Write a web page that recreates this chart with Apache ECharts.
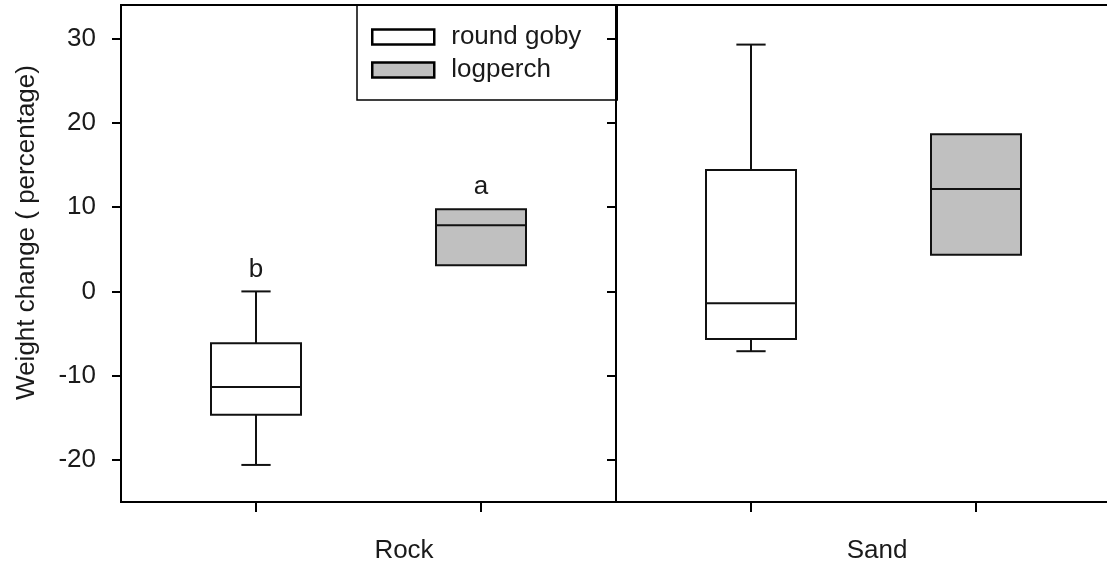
<!DOCTYPE html>
<html>
<head>
<meta charset="utf-8">
<script src="https://cdn.jsdelivr.net/npm/echarts@6/dist/echarts.min.js"></script>
<style>
  html, body { margin: 0; padding: 0; background: #fff; }
  #chart { width: 1107px; height: 564px; }
</style>
</head>
<body>
<div id="chart"></div>
<script>
// Habitat panels and the position of each species inside a panel
const habitats = ['Rock', 'Sand'];
const groupPos = [1, 2];            // round goby, logperch
const yTicks = [-20, -10, 0, 10, 20, 30];

// Box statistics: [lower whisker, Q1, median, Q3, upper whisker]
const gobyRock  = [-20.6, -14.65, -11.35, -6.15, 0.0];
const gobySand  = [-7.1, -5.65, -1.4, 14.4, 29.3];
const perchRock = [null, 3.1, 7.85, 9.75, null];
const perchSand = [null, 4.35, 12.15, 18.65, null];

// Significance letters over the Rock boxes
const rockLetters = ['b', 'a'];

const FONT = '"Liberation Sans", Arial, sans-serif';
const TEXT = '#1a1a1a';
const INK = '#111';
const BOX_W = 0.4;   // box width in x-axis units
const CAP_W = 0.13;  // whisker cap width in x-axis units

function renderBox(params, api) {
  const x = api.value(0);
  const v = [1, 2, 3, 4, 5].map(i => api.value(i));
  const half = api.size([BOX_W, 0])[0] / 2;
  const capHalf = api.size([CAP_W, 0])[0] / 2;
  const cx = api.coord([x, v[2]])[0];
  const yOf = val => api.coord([x, val])[1];
  const line = { stroke: INK, lineWidth: 2 };
  const children = [];
  const yq1 = yOf(v[1]), yq3 = yOf(v[3]), ymed = yOf(v[2]);
  if (isFinite(v[0])) {
    const y0 = yOf(v[0]);
    children.push({ type: 'line', shape: { x1: cx, y1: yq1, x2: cx, y2: y0 }, style: line });
    children.push({ type: 'line', shape: { x1: cx - capHalf, y1: y0, x2: cx + capHalf, y2: y0 }, style: line });
  }
  if (isFinite(v[4])) {
    const y4 = yOf(v[4]);
    children.push({ type: 'line', shape: { x1: cx, y1: yq3, x2: cx, y2: y4 }, style: line });
    children.push({ type: 'line', shape: { x1: cx - capHalf, y1: y4, x2: cx + capHalf, y2: y4 }, style: line });
  }
  children.push({
    type: 'rect',
    shape: { x: cx - half, y: yq3, width: half * 2, height: yq1 - yq3 },
    style: { fill: api.visual('color'), stroke: INK, lineWidth: 2 }
  });
  children.push({ type: 'line', shape: { x1: cx - half, y1: ymed, x2: cx + half, y2: ymed }, style: line });
  return { type: 'group', children };
}

function renderLetter(params, api) {
  const p = api.coord([api.value(0), api.value(1)]);
  return {
    type: 'text',
    x: p[0], y: p[1] - 9,
    style: {
      text: rockLetters[params.dataIndex],
      fill: TEXT, font: '26px ' + FONT,
      align: 'center', verticalAlign: 'bottom'
    }
  };
}

function boxSeries(name, color, grid, stats) {
  return {
    type: 'custom', name, xAxisIndex: grid, yAxisIndex: grid,
    itemStyle: { color },
    encode: { x: 0, y: [1, 2, 3, 4, 5] },
    renderItem: renderBox,
    data: [[groupPos[name === 'round goby' ? 0 : 1], ...stats]],
    z: 3
  };
}

function topOf(stats) {
  return stats[4] !== null ? stats[4] : stats[3];
}

const grids = habitats.map((h, i) => ({
  left: i === 0 ? 121 : 616, top: 5, width: 495, height: 497,
  outerBoundsMode: 'none', containLabel: false,
  show: true, borderColor: '#000', borderWidth: 2, backgroundColor: 'transparent'
}));

const xAxes = habitats.map((h, i) => ({
  type: 'value', gridIndex: i, min: 0.4, max: 2.6,
  axisLine: { show: true, onZero: false, lineStyle: { color: '#000', width: 2 } },
  axisTick: { show: true, customValues: groupPos, length: 10, lineStyle: { color: '#000', width: 2 } },
  axisLabel: { show: false, customValues: groupPos },
  splitLine: { show: false },
  name: h, nameLocation: 'middle', nameGap: 36,
  nameTextStyle: {
    fontFamily: FONT, fontSize: 26, color: TEXT,
    padding: i === 0 ? [0, 0, 0, 71] : [0, 0, 0, 27]
  }
}));

const yAxes = habitats.map((h, i) => ({
  type: 'value', gridIndex: i, min: -25, max: 34,
  axisLine: { show: true, onZero: false, lineStyle: { color: '#000', width: 2 } },
  axisTick: { show: true, customValues: yTicks, length: 9, lineStyle: { color: '#000', width: 2 } },
  axisLabel: {
    show: i === 0, customValues: yTicks, margin: 25,
    fontFamily: FONT, fontSize: 26, color: TEXT
  },
  splitLine: { show: false },
  name: i === 0 ? 'Weight change ( percentage)' : '',
  nameLocation: 'middle', nameGap: 81, nameRotate: 90,
  nameTextStyle: { fontFamily: FONT, fontSize: 26, color: TEXT, padding: [0, 0, 0, 42] }
}));

const option = {
  animation: false,
  backgroundColor: '#fff',
  legend: {
    orient: 'vertical', left: 357, top: 5,
    padding: [19, 12, 17, 14], itemGap: 7,
    itemWidth: 62, itemHeight: 15,
    borderColor: '#000', borderWidth: 1.5, backgroundColor: 'transparent',
    selectedMode: false,
    textStyle: { fontFamily: FONT, fontSize: 26, color: TEXT, lineHeight: 26, width: 154, padding: [0, 0, 0, 12] },
    data: [
      { name: 'round goby', icon: 'rect', itemStyle: { color: '#fff', borderColor: '#000', borderWidth: 2.5 } },
      { name: 'logperch', icon: 'rect', itemStyle: { color: '#c0c0c0', borderColor: '#000', borderWidth: 2.5 } }
    ]
  },
  grid: grids,
  xAxis: xAxes,
  yAxis: yAxes,
  series: [
    boxSeries('round goby', '#ffffff', 0, gobyRock),
    boxSeries('logperch', '#c0c0c0', 0, perchRock),
    boxSeries('round goby', '#ffffff', 1, gobySand),
    boxSeries('logperch', '#c0c0c0', 1, perchSand),
    {
      type: 'custom', name: 'letters', xAxisIndex: 0, yAxisIndex: 0,
      encode: { x: 0, y: 1 },
      renderItem: renderLetter,
      data: [[groupPos[0], topOf(gobyRock)], [groupPos[1], topOf(perchRock)]],
      z: 4
    }
  ]
};

echarts.init(document.getElementById('chart')).setOption(option);
</script>
</body>
</html>
